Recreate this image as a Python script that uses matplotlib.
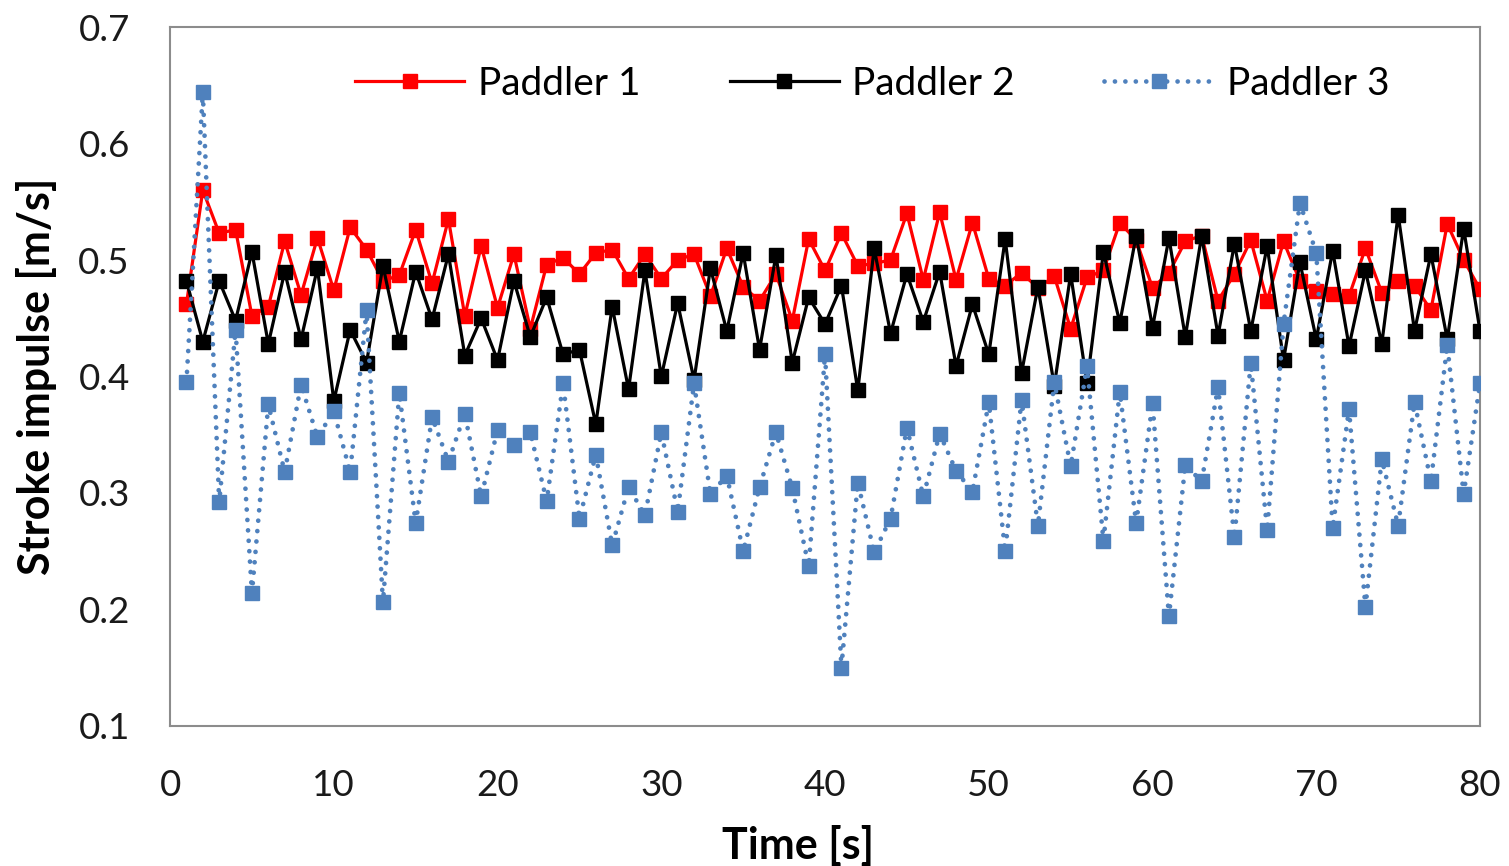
import matplotlib.pyplot as plt

plt.rcParams['font.family'] = ['Lato', 'DejaVu Sans']

# -------------------------
# Data (one stroke per second, t = 1..80)
# -------------------------
time_s = list(range(1, 81))

paddler_1 = [
    0.462, 0.560, 0.523, 0.526, 0.452, 0.460, 0.516, 0.470, 0.519, 0.474,
    0.528, 0.509, 0.482, 0.487, 0.526, 0.480, 0.535, 0.452, 0.512, 0.459,
    0.505, 0.441, 0.496, 0.502, 0.488, 0.506, 0.509, 0.484, 0.505, 0.484,
    0.500, 0.505, 0.469, 0.510, 0.477, 0.465, 0.488, 0.448, 0.518, 0.491,
    0.523, 0.495, 0.497, 0.500, 0.540, 0.483, 0.541, 0.483, 0.532, 0.484,
    0.478, 0.489, 0.476, 0.486, 0.441, 0.485, 0.491, 0.532, 0.517, 0.476,
    0.489, 0.516, 0.521, 0.465, 0.488, 0.517, 0.465, 0.516, 0.482, 0.473,
    0.471, 0.469, 0.510, 0.472, 0.482, 0.478, 0.457, 0.531, 0.500, 0.475,
]

paddler_2 = [
    0.482, 0.430, 0.482, 0.448, 0.507, 0.428, 0.490, 0.432, 0.493, 0.379,
    0.440, 0.412, 0.495, 0.430, 0.490, 0.449, 0.505, 0.418, 0.450, 0.414,
    0.482, 0.434, 0.468, 0.419, 0.423, 0.359, 0.460, 0.389, 0.491, 0.400,
    0.463, 0.397, 0.493, 0.439, 0.506, 0.423, 0.504, 0.412, 0.468, 0.445,
    0.478, 0.388, 0.510, 0.437, 0.488, 0.447, 0.490, 0.409, 0.462, 0.419,
    0.518, 0.403, 0.477, 0.392, 0.488, 0.394, 0.507, 0.446, 0.521, 0.442,
    0.519, 0.434, 0.521, 0.435, 0.514, 0.439, 0.512, 0.414, 0.498, 0.432,
    0.508, 0.426, 0.491, 0.428, 0.539, 0.439, 0.505, 0.432, 0.527, 0.439,
]

paddler_3 = [
    0.395, 0.644, 0.292, 0.440, 0.214, 0.376, 0.318, 0.393, 0.348, 0.370,
    0.318, 0.457, 0.206, 0.386, 0.274, 0.365, 0.327, 0.368, 0.297, 0.354,
    0.341, 0.352, 0.293, 0.394, 0.278, 0.333, 0.255, 0.305, 0.281, 0.352,
    0.284, 0.394, 0.299, 0.315, 0.250, 0.305, 0.352, 0.304, 0.237, 0.419,
    0.150, 0.309, 0.249, 0.278, 0.356, 0.297, 0.351, 0.319, 0.301, 0.378,
    0.250, 0.380, 0.272, 0.395, 0.323, 0.409, 0.259, 0.387, 0.274, 0.377,
    0.194, 0.324, 0.310, 0.391, 0.262, 0.412, 0.268, 0.445, 0.549, 0.506,
    0.270, 0.372, 0.202, 0.329, 0.272, 0.378, 0.310, 0.427, 0.299, 0.394,
]

x_ticks = [0, 10, 20, 30, 40, 50, 60, 70, 80]
y_ticks = [0.1, 0.2, 0.3, 0.4, 0.5, 0.6, 0.7]

RED = "#ff0000"
BLACK = "#000000"
BLUE = "#4f81bd"


def main():
    fig = plt.figure(figsize=(15.09, 8.66), dpi=100)
    ax = fig.add_axes([0.1127, 0.1617, 0.8681, 0.8071])

    ax.plot(time_s, paddler_1, color=RED, lw=2.3, marker="s", ms=9.5,
            label="Paddler 1", zorder=3)
    ax.plot(time_s, paddler_2, color=BLACK, lw=2.3, marker="s", ms=9.5,
            label="Paddler 2", zorder=4)
    ax.plot(time_s, paddler_3, color=BLUE, lw=3.4, marker="s", ms=9.5,
            linestyle=(0, (0.01, 2.2)), dash_capstyle="round",
            label="Paddler 3", zorder=5)

    ax.set_xlim(0, 80)
    ax.set_ylim(0.1, 0.7)
    ax.set_xticks(x_ticks)
    ax.set_yticks(y_ticks)
    ax.set_yticklabels([f"{v:.1f}" for v in y_ticks])
    ax.tick_params(axis="both", length=0, labelsize=26.5, colors="#1a1a1a")
    ax.tick_params(axis="x", pad=31)
    ax.tick_params(axis="y", pad=29)

    for side in ax.spines.values():
        side.set_color("#8c8c8c")
        side.set_linewidth(1.5)

    # axis titles placed where the original chart has them
    fig.text(798 / 1509, 1 - 845 / 866, "Time [s]", fontsize=31,
             fontweight="bold", ha="center", va="center")
    fig.text(37 / 1509, 1 - 376 / 866, "Stroke impulse [m/s]", fontsize=31,
             fontweight="bold", rotation=90, ha="center", va="center")

    ax.legend(loc="upper center", bbox_to_anchor=(0.536, 0.995), ncol=3,
              frameon=False, fontsize=28, handlelength=2.8,
              handletextpad=0.35, columnspacing=2.3, borderaxespad=0.5)

    fig.savefig("out.png", dpi=100)
    plt.close(fig)


if __name__ == "__main__":
    main()
